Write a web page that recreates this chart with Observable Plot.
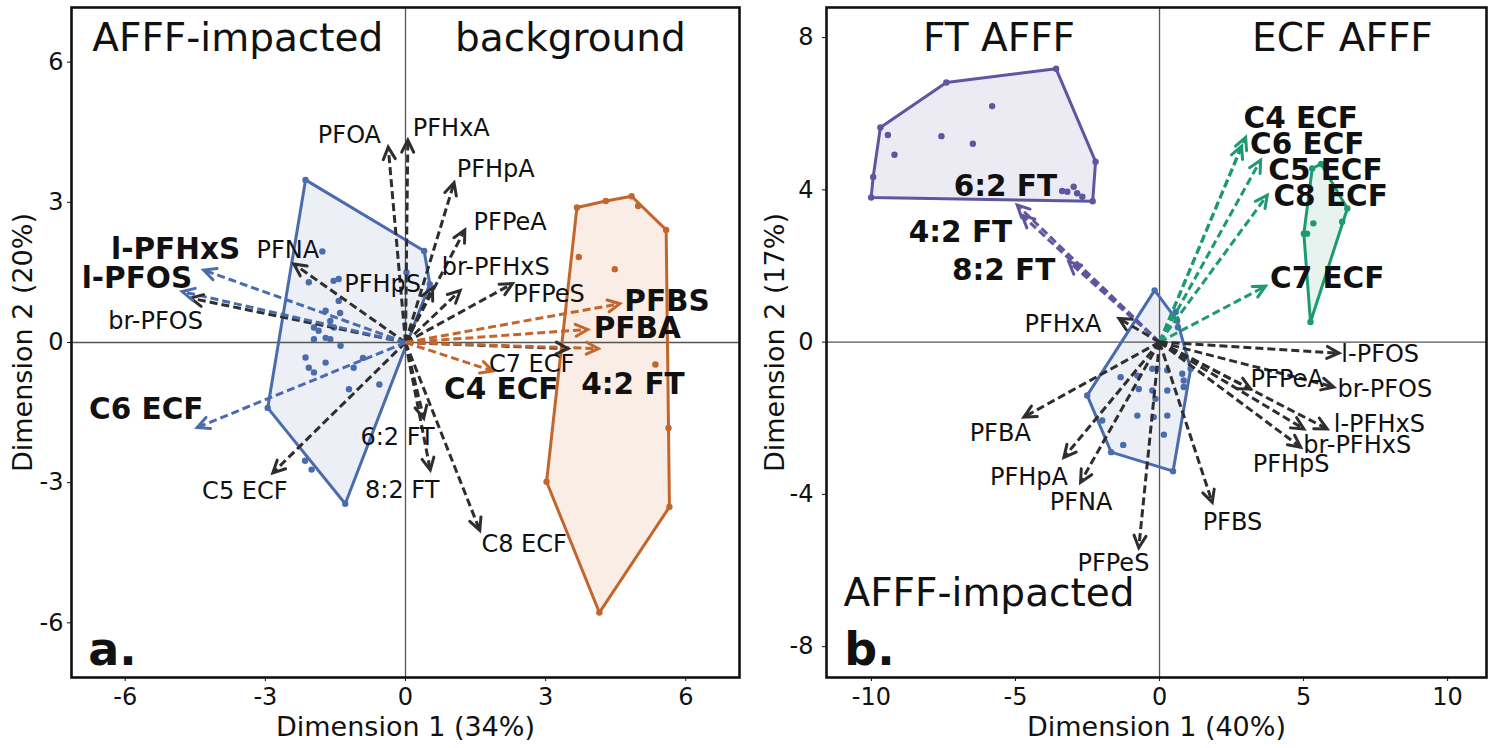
<!DOCTYPE html>
<html>
<head>
<meta charset="utf-8">
<script src="https://cdn.jsdelivr.net/npm/d3@7"></script>
<script src="https://cdn.jsdelivr.net/npm/@observablehq/plot@0.6"></script>
<style>
html, body { margin: 0; padding: 0; background: #fff; }
#wrap { display: flex; width: 1500px; height: 748px; overflow: hidden; }
#wrap svg { overflow: visible; }
</style>
</head>
<body>
<div id="wrap"></div>
<script>
// ---------------- Panel a data ----------------
const aVars   = ["PFOA","PFHxA","PFHpA","PFPeA","br-PFHxS","PFPeS","PFHpS","PFNA","br-PFOS","C5 ECF","6:2 FT","8:2 FT","C8 ECF","C7 ECF","l-PFHxS","l-PFOS","C6 ECF","PFBS","PFBA","4:2 FT","C4 ECF"];
const aDim1   = [-0.37, 0.05, 1.04, 1.27, 1.17, 2.29, 0.58, -2.39, -4.60, -2.84, 0.39, 0.53, 1.59, 3.48, -4.32, -4.78, -4.46, 4.59, 3.90, 4.13, 1.87];
const aDim2   = [4.18, 4.33, 3.42, 2.41, 1.11, 1.26, 1.17, 1.68, 0.95, -2.79, -1.62, -2.73, -4.02, -0.13, 1.55, 1.09, -1.82, 0.83, 0.28, -0.13, -0.61];
const aGroup  = ["none","none","none","none","none","none","none","none","none","none","none","none","none","none","impacted","impacted","impacted","background","background","background","background"];
const aLabelX = [-1.20, 0.98, 1.93, 2.24, 1.93, 3.07, -0.49, -2.52, -5.35, -3.44, -0.17, -0.07, 2.54, 2.70, -4.92, -5.75, -5.55, 5.60, 4.96, 4.87, 2.05];
const aLabelY = [4.44, 4.59, 3.70, 2.58, 1.61, 1.04, 1.24, 1.97, 0.46, -3.18, -2.03, -3.16, -4.31, -0.47, 2.00, 1.36, -1.43, 0.87, 0.30, -0.90, -1.00];

const aImpHullX = [-2.14, 0.40, 0.52, -1.29, -2.95];
const aImpHullY = [3.48, 1.96, 1.25, -3.45, -1.40];
const aImpX = [-1.78,-2.07,-1.54,-1.43,-1.43,-1.71,-1.96,-1.86,-1.61,-1.53,-1.96,-1.61,-1.39,-2.14,-2.07,-1.96,-1.71,-1.21,-1.11,-0.91,-0.56,0.02,-2.15,-2.01,-1.71,-1.40];
const aImpY = [1.95,1.29,1.32,1.36,0.89,0.68,0.32,0.25,0.46,0.32,0.07,0.07,-0.07,-0.32,-0.54,-0.64,-0.43,-1.00,-0.54,-0.33,-0.90,1.50,-2.53,-2.72,0.10,0.63];

const aBgHullX = [3.67, 4.29, 4.84, 4.98, 5.58, 5.63, 5.65, 4.15, 3.02];
const aBgHullY = [2.89, 3.03, 3.13, 2.92, 2.41, -1.83, -3.52, -5.78, -2.98];
const aBgX = [3.71, 4.48, 5.35];
const aBgY = [1.83, 1.57, -0.47];

const aQuadText = ["AFFF-impacted", "background"];
const aQuadX = [-3.59, 3.53];
const aQuadY = [6.50, 6.50];

// ---------------- Panel b data ----------------
const bVars   = ["6:2 FT","4:2 FT","8:2 FT","C4 ECF","C6 ECF","C5 ECF","C8 ECF","C7 ECF","PFHxA","l-PFOS","PFPeA","br-PFOS","l-PFHxS","br-PFHxS","PFHpS","PFBS","PFPeS","PFNA","PFHpA","PFBA"];
const bDim1   = [-4.94, -4.77, -3.15, 2.99, 2.85, 3.51, 3.74, 3.68, -1.41, 6.23, 3.16, 6.05, 5.82, 4.90, 5.01, 1.83, -0.72, -2.74, -3.32, -4.71];
const bDim2   = [3.60, 3.33, 2.11, 5.38, 5.15, 4.78, 3.86, 1.47, 0.62, -0.29, -1.23, -1.18, -2.28, -2.76, -2.28, -4.21, -5.40, -3.68, -3.03, -1.97];
const bGroup  = ["FT","FT","FT","ECF","ECF","ECF","ECF","ECF","none","none","none","none","none","none","none","none","none","none","none","none"];
const bLabelX = [-5.35, -6.91, -5.41, 4.90, 5.13, 5.76, 5.94, 5.82, -3.35, 7.66, 4.43, 7.82, 7.63, 6.86, 4.57, 2.53, -1.60, -2.72, -4.53, -5.53];
const bLabelY = [4.08, 2.87, 1.89, 5.88, 5.18, 4.52, 3.82, 1.67, 0.48, -0.33, -0.99, -1.23, -2.17, -2.72, -3.22, -4.73, -5.81, -4.22, -3.55, -2.40];

const bFtHullX = [-10.01, -9.94, -9.69, -7.40, -3.59, -2.22, -2.32];
const bFtHullY = [3.80, 4.34, 5.64, 6.82, 7.18, 4.74, 3.70];
const bFtX = [-9.43, -9.20, -7.57, -6.48, -5.81, -3.38, -3.20, -2.98, -2.86, -2.68];
const bFtY = [5.44, 4.92, 5.41, 5.21, 6.20, 3.97, 3.95, 4.08, 3.91, 3.82];

const bEcfHullX = [5.30, 5.61, 6.52, 6.34, 5.24, 5.01];
const bEcfHullY = [4.56, 4.68, 3.51, 3.16, 0.53, 2.85];
const bEcfX = [5.34, 5.12];
const bEcfY = [3.12, 2.85];

const bImpHullX = [-0.17, 0.61, 1.08, 0.47, -1.68, -2.51];
const bImpHullY = [1.36, 0.57, -0.70, -3.39, -2.89, -1.40];
const bImpX = [-1.35,-0.77,-0.25,-0.08,0.27,0.79,0.84,-0.72,-0.25,0.27,-0.14,0.84,-0.77,-0.20,0.27,0.15,-1.26,-1.99,0.56,0.64];
const bImpY = [-0.92,-0.88,-0.70,-0.70,-0.74,-0.83,-1.01,-1.23,-1.27,-1.27,-1.49,-1.18,-1.93,-1.97,-1.93,-2.43,-2.70,-2.06,0.79,0.39];

const bQuadText = ["FT AFFF", "ECF AFFF"];
const bQuadX = [-5.57, 6.35];
const bQuadY = [7.98, 7.98];
const bBottomText = ["AFFF-impacted"];
const bBottomX = [-10.97];
const bBottomY = [-6.60];

// ---------------- Styles ----------------
const FONT = "DejaVu Sans";
const COL = {
  none: "#2e2e2e",
  impacted: "#4a6cad",
  background: "#c2662d",
  FT: "#5f56a0",
  ECF: "#1d9a74"
};
const FILL = {
  impacted: "#edeff6",
  background: "#faede5",
  FT: "#ecebf4",
  ECF: "#e6f3ef"
};

const pts = (X, Y) => X.map((x, i) => ({x, y: Y[i]}));
const loads = (V, X, Y, G, LX, LY) => V.map((n, i) => ({name: n, x: X[i], y: Y[i], g: G[i], lx: LX[i], ly: LY[i]}));

const headShape = {
  draw(context, l) {
    const w = l * 0.5;
    context.moveTo(-w, l);
    context.lineTo(0, 0);
    context.lineTo(w, l);
  }
};

function panel(cfg) {
  const W = 750, H = 748, mt = 7, mb = 71;
  const pw = W - cfg.ml - cfg.mr, ph = H - mt - mb;
  const kx = pw / (cfg.xd[1] - cfg.xd[0]);
  const ky = ph / (cfg.yd[1] - cfg.yd[0]);
  const rot = d => Math.atan2(d.x * kx, d.y * ky) * 180 / Math.PI;
  const marks = [];
  for (const h of cfg.hulls) {
    marks.push(Plot.hull(h.vertices, {x: "x", y: "y", fill: FILL[h.g], stroke: "none"}));
  }
  marks.push(Plot.ruleX([0], {stroke: "#555", strokeWidth: 1.3}));
  marks.push(Plot.ruleY([0], {stroke: "#555", strokeWidth: 1.3}));
  for (const h of cfg.hulls) {
    marks.push(Plot.hull(h.vertices, {x: "x", y: "y", stroke: COL[h.g], strokeWidth: 3, strokeLinejoin: "round"}));
    marks.push(Plot.dot(h.vertices.concat(h.points), {x: "x", y: "y", r: 3.2, fill: COL[h.g], stroke: "none"}));
  }
  const L = cfg.loads;
  marks.push(Plot.link(L, {x1: d => 0, y1: d => 0, x2: "x", y2: "y", stroke: d => COL[d.g], strokeWidth: 3, strokeDasharray: "8,4"}));
  marks.push(Plot.vector(L, {x: "x", y: "y", rotate: rot, length: 12, anchor: "start", shape: headShape, stroke: d => COL[d.g], strokeWidth: 3, fill: "none", strokeLinejoin: "miter"}));
  marks.push(Plot.text(L.filter(d => d.g === "none"), {x: "lx", y: "ly", text: "name", fontSize: 24, fill: "#111"}));
  marks.push(Plot.text(L.filter(d => d.g !== "none"), {x: "lx", y: "ly", text: "name", fontSize: 29.5, fontWeight: "bold", fill: "#111"}));
  for (const q of cfg.quads) {
    marks.push(Plot.text(q.text, {x: (d, i) => q.x[i], y: (d, i) => q.y[i], text: d => d, fontSize: 39, textAnchor: q.anchor, fill: "#111"}));
  }
  marks.push(Plot.text([cfg.tag], {x: d => cfg.tagX, y: d => cfg.tagY, text: d => d, fontSize: 46, fontWeight: "bold", textAnchor: "start", fill: "#111"}));
  marks.push(Plot.text([cfg.xTitle], {frameAnchor: "bottom", dy: 50, lineAnchor: "middle", textAnchor: "middle", text: d => d, fontSize: 27, fill: "#111"}));
  marks.push(Plot.text([cfg.yTitle], {frameAnchor: "left", dx: cfg.ytdx, rotate: -90, lineAnchor: "middle", textAnchor: "middle", text: d => d, fontSize: 27, fill: "#111"}));
  marks.push(Plot.frame({stroke: "#111", strokeWidth: 2.6}));
  marks.push(Plot.axisX(cfg.xt, {tickSize: 4, tickPadding: 6, tickFormat: d => String(d), fontSize: 24, label: null, fill: "#111"}));
  marks.push(Plot.axisY(cfg.yt, {tickSize: 4, tickPadding: cfg.ytp, tickFormat: d => String(d), fontSize: 24, label: null, fill: "#111"}));
  return Plot.plot({
    width: W, height: H,
    marginLeft: cfg.ml, marginRight: cfg.mr, marginTop: mt, marginBottom: mb,
    x: {domain: cfg.xd},
    y: {domain: cfg.yd},
    color: {type: "identity"},
    style: {fontFamily: FONT, fontSize: "24px", background: "transparent", color: "#111", overflow: "visible"},
    marks
  });
}

const wrap = document.getElementById("wrap");

wrap.appendChild(panel({
  ml: 71, mr: 11,
  xd: [-7.15, 7.15], yd: [-7.17, 7.17],
  xt: [-6, -3, 0, 3, 6], yt: [-6, -3, 0, 3, 6],
  ytp: 4, ytdx: -48,
  xTitle: "Dimension 1 (34%)", yTitle: "Dimension 2 (20%)",
  tag: "a.", tagX: -6.79, tagY: -6.58,
  hulls: [
    {g: "impacted", vertices: pts(aImpHullX, aImpHullY), points: pts(aImpX, aImpY)},
    {g: "background", vertices: pts(aBgHullX, aBgHullY), points: pts(aBgX, aBgY)}
  ],
  loads: loads(aVars, aDim1, aDim2, aGroup, aLabelX, aLabelY),
  quads: [{text: aQuadText, x: aQuadX, y: aQuadY, anchor: "middle"}]
}));

wrap.appendChild(panel({
  ml: 76, mr: 14,
  xd: [-11.56, 11.35], yd: [-8.81, 8.79],
  xt: [-10, -5, 0, 5, 10], yt: [-8, -4, 0, 4, 8],
  ytp: 9, ytdx: -51,
  xTitle: "Dimension 1 (40%)", yTitle: "Dimension 2 (17%)",
  tag: "b.", tagX: -10.94, tagY: -8.09,
  hulls: [
    {g: "impacted", vertices: pts(bImpHullX, bImpHullY), points: pts(bImpX, bImpY)},
    {g: "FT", vertices: pts(bFtHullX, bFtHullY), points: pts(bFtX, bFtY)},
    {g: "ECF", vertices: pts(bEcfHullX, bEcfHullY), points: pts(bEcfX, bEcfY)}
  ],
  loads: loads(bVars, bDim1, bDim2, bGroup, bLabelX, bLabelY),
  quads: [
    {text: bQuadText, x: bQuadX, y: bQuadY, anchor: "middle"},
    {text: bBottomText, x: bBottomX, y: bBottomY, anchor: "start"}
  ]
}));
</script>
</body>
</html>
